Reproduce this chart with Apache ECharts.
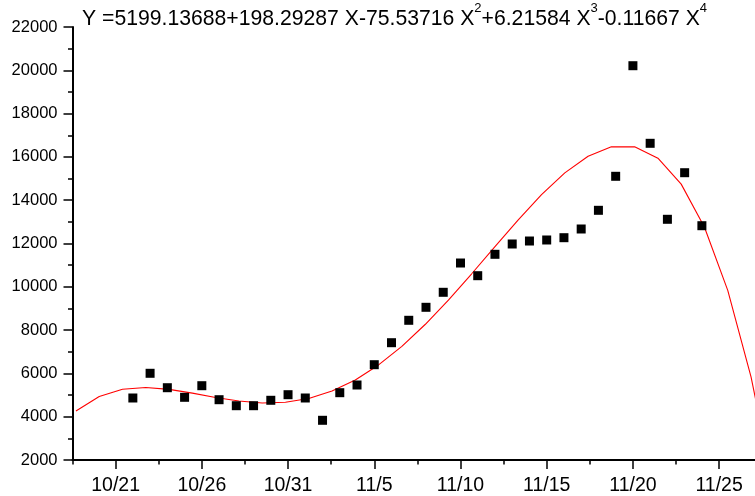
<!DOCTYPE html>
<html><head><meta charset="utf-8">
<script src="https://cdn.jsdelivr.net/npm/echarts@6/dist/echarts.min.js"></script>
<style>html,body{margin:0;padding:0;background:#fff}#c{width:755px;height:496px}</style>
</head><body><div id="c"></div>
<script>
// Observed data points (date, value)
const pointDates = ['10/22','10/23','10/24','10/25','10/26','10/27','10/28','10/29','10/30','10/31',
  '11/1','11/2','11/3','11/4','11/5','11/6','11/7','11/8','11/9','11/10',
  '11/11','11/12','11/13','11/14','11/15','11/16','11/17','11/18','11/19','11/20',
  '11/21','11/22','11/23','11/24'];
const pointValues = [4864, 6005, 5339, 4896, 5432, 4785, 4508, 4508, 4758, 5016,
  4864, 3834, 5109, 5464, 6402, 7418, 8453, 9053, 9746, 11099,
  10513, 11501, 11977, 12115, 12162, 12268, 12670, 13533, 15104, 20212,
  16628, 13118, 15270, 12822];
// Fitted curve vertices (days after 10/21, value)
const curveDays = [-2.3, -0.95, 0.4, 1.75, 3.1, 4.45, 5.8, 7.15, 8.5, 9.85,
  11.2, 12.55, 13.9, 15.25, 16.6, 17.95, 19.3, 20.65, 22.0, 23.35,
  24.7, 26.05, 27.4, 28.75, 30.1, 31.45, 32.8, 34.15, 35.5, 36.85, 38.2];
const curveValues = [4265, 4937, 5267, 5347, 5262, 5088, 4889, 4722, 4635, 4666,
  4842, 5183, 5699, 6391, 7250, 8258, 9388, 10602, 11858, 13096,
  14255, 15260, 16027, 16465, 16472, 15938, 14742, 12753, 9834, 5836, 601];
const xTickLabels = ['10/21','10/26','10/31','11/5','11/10','11/15','11/20','11/25'];
const yMin = 2000, yMax = 22000, yStep = 2000;
const titleParts = ['Y =5199.13688+198.29287 X-75.53716 X', '2', '+6.21584 X', '3', '-0.11667 X', '4'];

function dayOffset(s) { const p = s.split('/').map(Number); return p[0] === 10 ? p[1] - 21 : p[1] + 10; }
function dayLabel(v) { v = Math.round(v); return v <= 10 ? '10/' + (21 + v) : '11/' + (v - 10); }

const majorX = xTickLabels.map(dayOffset);
const minorX = [];
for (let v = -2.5; v <= 35; v += 5) minorX.push(v);

const FONT = '"Liberation Sans", Arial, sans-serif';
let titleText = '';
titleParts.forEach((t, i) => { titleText += (i % 2 === 0 ? '{m|' : '{s|') + t + '}'; });

const chart = echarts.init(document.getElementById('c'), null, {renderer: 'canvas'});
chart.setOption({
  animation: false,
  backgroundColor: '#fff',
  title: {
    text: titleText, left: 82, top: 2, padding: 0,
    textStyle: {
      fontFamily: FONT, fontWeight: 'normal', color: '#000',
      rich: {
        m: {fontFamily: FONT, fontSize: 21.2, color: '#000', lineHeight: 28, verticalAlign: 'bottom'},
        s: {fontFamily: FONT, fontSize: 13, color: '#000', lineHeight: 13, verticalAlign: 'top'}
      }
    }
  },
  grid: {left: 72.5, right: 0, top: 27, bottom: 36, containLabel: false},
  xAxis: [{
    type: 'value', min: -2.5, max: 37.08, position: 'bottom',
    axisLine: {show: true, onZero: false, lineStyle: {color: '#000', width: 2}},
    axisTick: {show: true, customValues: minorX, length: 4.5, lineStyle: {color: '#000', width: 1.5}},
    axisLabel: {show: false},
    splitLine: {show: false}
  }, {
    type: 'value', min: -2.5, max: 37.08, position: 'bottom', offset: 0,
    axisLine: {show: false, onZero: false},
    axisTick: {show: true, customValues: majorX, length: 9, lineStyle: {color: '#000', width: 1.5}},
    axisLabel: {show: true, customValues: majorX, formatter: dayLabel, fontFamily: FONT, fontSize: 19.5, color: '#000', margin: 16},
    splitLine: {show: false}
  }],
  yAxis: {
    type: 'value', min: yMin, max: yMax, interval: yStep,
    axisLine: {show: true, onZero: false, lineStyle: {color: '#000', width: 2}},
    axisTick: {show: true, length: 9, lineStyle: {color: '#000', width: 1.5}},
    minorTick: {show: true, splitNumber: 2, length: 4.5, lineStyle: {color: '#000', width: 1.5}},
    axisLabel: {fontFamily: FONT, fontSize: 16.5, color: '#000', margin: 15, formatter: v => String(v)},
    splitLine: {show: false}
  },
  series: [{
    type: 'line', xAxisIndex: 0, z: 2,
    data: curveDays.map((d, i) => [d, curveValues[i]]),
    showSymbol: false, symbol: 'none', smooth: false,
    lineStyle: {color: '#ff0000', width: 1.1},
    clip: true
  }, {
    type: 'scatter', xAxisIndex: 0, z: 3,
    data: pointDates.map((d, i) => [dayOffset(d), pointValues[i]]),
    symbol: 'rect', symbolSize: 9,
    itemStyle: {color: '#000', opacity: 1}
  }]
});
</script>
</body></html>
